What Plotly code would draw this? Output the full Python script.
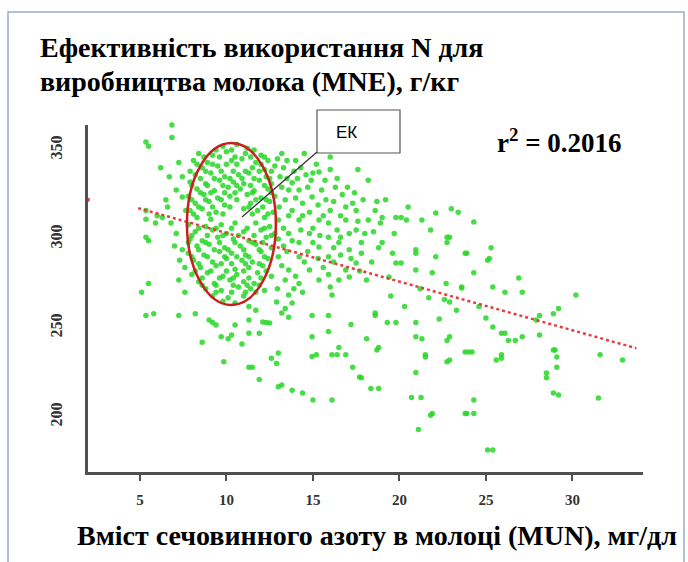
import plotly.graph_objects as go

# ---- data (MUN, mg/dl ; MNE, g/kg) ----
pts_left = [(5.35, 354.5), (5.5, 352), (6.85, 364), (6.85, 357), (7.25, 343), (6.7, 335), (7.45, 335),
            (7.1, 327.5), (6.5, 322), (5.35, 316), (6.3, 312), (5.35, 311), (5.9, 309), (6.8, 309),
            (5.35, 301), (7.1, 303), (7.45, 323.6), (7.65, 316), (5.5, 275), (7.45, 294), (7.6, 284),
            (7.25, 277), (5.1, 270), (7.6, 270), (5.35, 257), (7.25, 257), (5.5, 299), (6.0, 313),
            (6.6, 318), (7.0, 296), (7.3, 288), (6.2, 340), (5.8, 258)]

pts_ek = [(9.8, 352), (10.6, 353), (11.2, 351),
          (8.4, 348), (9.2, 347), (10.0, 349), (11.1, 348), (12.0, 347),
          (8.1, 344), (8.9, 343), (10.3, 344), (10.9, 345), (11.7, 343), (12.4, 344),
          (8.6, 340), (9.5, 341), (11.5, 340), (12.2, 339), (12.8, 341),
          (8.2, 336), (9.1, 337), (9.9, 335), (10.7, 336), (11.3, 337), (12.3, 335),
          (7.9, 332), (8.8, 331), (9.6, 333), (10.4, 332), (11.0, 331), (11.9, 333), (12.6, 331),
          (8.3, 328), (9.3, 327), (10.1, 329), (10.8, 328), (11.6, 327), (12.4, 328),
          (7.8, 324), (8.7, 325), (9.5, 323), (10.2, 324), (11.2, 325), (12.0, 323), (12.8, 324),
          (8.2, 320), (9.0, 321), (9.9, 319), (11.4, 320), (12.5, 321),
          (7.9, 316), (8.6, 317), (9.4, 315), (11.0, 317), (11.8, 316), (12.7, 315),
          (8.3, 312), (9.1, 311), (10.5, 309), (12.2, 312),
          (7.8, 308), (8.8, 307), (9.7, 308), (11.7, 309), (12.5, 307),
          (8.2, 304), (9.2, 305), (10.0, 303), (11.0, 304), (12.0, 305), (12.8, 303),
          (7.9, 300), (8.6, 299), (9.5, 301), (10.4, 300), (11.3, 299), (12.3, 301),
          (8.3, 296), (9.0, 297), (9.9, 295), (10.8, 296), (11.7, 297), (12.6, 295),
          (7.8, 292), (8.7, 291), (9.6, 293), (10.3, 292), (11.1, 291), (12.0, 293),
          (8.1, 288), (9.2, 287), (10.0, 289), (10.9, 288), (11.5, 287), (12.4, 289),
          (8.5, 284), (9.4, 285), (10.5, 283), (11.3, 284), (12.1, 285),
          (8.0, 280), (8.9, 281), (9.8, 279), (10.6, 280), (11.8, 281), (12.6, 279),
          (8.4, 276), (9.3, 275), (10.2, 277), (11.0, 276), (11.6, 275),
          (8.8, 272), (9.7, 271), (10.7, 273), (11.4, 272), (12.2, 271),
          (9.2, 268), (10.1, 267), (11.0, 268), (9.8, 265), (10.5, 264)]

pts_ek2 = [(9.4, 350), (10.3, 350), (11.6, 350),
           (8.7, 346), (9.6, 346), (10.5, 346), (11.4, 346), (12.2, 346),
           (8.3, 342), (9.2, 342), (10.0, 342), (10.6, 342), (12.0, 342),
           (7.9, 338), (8.8, 338), (9.7, 338), (10.4, 338), (11.1, 338), (11.9, 338), (12.6, 338),
           (8.5, 334), (9.3, 334), (10.2, 334), (10.9, 334), (11.6, 334), (12.5, 334),
           (8.0, 330), (8.9, 330), (9.8, 330), (10.6, 330), (11.4, 330), (12.2, 330),
           (8.5, 326), (9.1, 326), (9.9, 326), (10.5, 326), (11.5, 326), (12.6, 326),
           (8.0, 322), (8.8, 322), (9.7, 322), (10.6, 322), (11.7, 322), (12.3, 322),
           (8.4, 318), (9.2, 318), (10.2, 318), (11.3, 318), (12.1, 318),
           (8.1, 314), (9.0, 314), (9.8, 314), (11.5, 314), (12.4, 314),
           (8.4, 306), (9.4, 306), (10.3, 306), (11.2, 306), (12.2, 306),
           (8.0, 302), (8.9, 302), (9.8, 302), (10.7, 302), (11.6, 302), (12.6, 302),
           (7.8, 298), (8.8, 298), (9.6, 298), (10.5, 298), (11.5, 298), (12.1, 298),
           (8.4, 294), (9.3, 294), (10.1, 294), (11.0, 294), (11.9, 294),
           (8.0, 290), (8.9, 290), (9.9, 290), (10.6, 290), (11.3, 290), (12.2, 290),
           (8.4, 286), (9.7, 286), (10.3, 286), (11.1, 286), (11.9, 286),
           (8.2, 282), (9.1, 282), (10.0, 282), (11.0, 282), (12.3, 282),
           (8.6, 278), (9.6, 278), (10.4, 278), (11.3, 278), (12.0, 278),
           (8.6, 274), (9.4, 274), (10.4, 274), (11.2, 274), (11.9, 274),
           (9.4, 270), (10.3, 270), (11.1, 270), (11.7, 270)]

pts_below_ek = [(9.0, 254.5), (9.4, 251.7), (8.6, 242), (9.7, 245), (10.1, 244), (10.5, 251.7),
                (11.3, 262), (11.3, 254.5), (11.7, 260), (12.1, 253.4), (12.9, 264.6), (12.5, 252.8),
                (10.3, 246), (11.3, 247), (11.9, 247), (9.85, 231), (11.3, 228), (12.6, 233),
                (12.9, 230), (11.9, 221), (11.5, 228), (12.3, 253), (9.2, 253), (10.9, 241), (8.2, 258)]

pts_mid = [(13.4, 367), (13.2, 348), (15.35, 337.6), (16.0, 339), (16.4, 334), (18.2, 333), (17.0, 329),
           (13.8, 331.5), (13.6, 327.5), (14.2, 327.5), (15.5, 327.5), (13.4, 322), (14.4, 320),
           (14.95, 323.6), (15.75, 322), (17.5, 316), (13.8, 316), (16.0, 316), (18.6, 316), (19.0, 312),
           (13.0, 310.7), (14.2, 310.7), (15.35, 310.7), (15.9, 309), (16.9, 310.7), (18.2, 310.7),
           (13.6, 303), (14.8, 303), (15.9, 301), (17.1, 303), (17.8, 298), (14.2, 298), (15.35, 295.5),
           (16.5, 298), (18.8, 295), (13.0, 290), (14.2, 290), (15.9, 290), (17.5, 286.5), (13.6, 282.6),
           (14.8, 282.6), (16.9, 282.6), (15.35, 277), (18.1, 277), (13.4, 277), (14.2, 275),
           (17.1, 278.6), (17.1, 294), (17.8, 292), (14.4, 270), (13.6, 268.5), (16.1, 268.5),
           (13.4, 261), (13.2, 258.4), (13.6, 256), (13.8, 264), (14.95, 257), (15.9, 257), (18.6, 258.4),
           (13.3, 340), (14.0, 344), (14.6, 336), (13.9, 338), (14.9, 333), (15.2, 342), (13.5, 334),
           (14.4, 313), (15.0, 306), (16.4, 305), (13.3, 296), (14.7, 293), (16.2, 287), (15.6, 284),
           (17.3, 320), (16.7, 325), (17.9, 322), (18.5, 304), (16.0, 346), (14.5, 348), (17.6, 339),
           (12.95, 345), (13.1, 335), (13.05, 318), (13.0, 300), (13.2, 285), (12.95, 272)]

pts_mid2 = [(13.5, 344), (14.3, 340), (15.0, 337), (15.7, 333), (16.3, 329), (14.1, 334), (13.2, 329),
            (14.7, 329), (15.3, 319), (16.2, 321), (16.9, 318), (14.0, 323), (13.6, 313), (14.8, 315),
            (15.6, 313), (16.6, 313), (17.6, 310), (13.3, 306), (14.3, 305), (15.4, 302), (16.6, 301),
            (17.5, 305), (13.8, 299), (15.0, 298), (16.2, 295), (13.5, 293), (14.5, 287), (15.3, 289),
            (16.6, 291), (17.2, 289), (14.0, 279), (15.9, 280), (16.5, 277), (17.7, 282), (18.4, 287),
            (18.0, 303), (18.7, 321), (17.4, 326), (18.9, 309), (16.0, 273), (13.9, 272)]

pts_mid_low = [(14.95, 245), (15.9, 248), (14.95, 234), (16.1, 235), (16.9, 235), (16.5, 239),
               (17.3, 228), (17.8, 222), (18.35, 216), (18.8, 216), (17.2, 252), (18.1, 244),
               (18.7, 237.6), (18.6, 257), (13.0, 236), (13.0, 217), (13.8, 215), (15.0, 209.5),
               (16.1, 209.5), (14.4, 213.5), (13.2, 218), (15.2, 235), (16.4, 235), (17.7, 222.5),
               (18.8, 239)]

pts_right = [(19.3, 253), (19.8, 253), (20.95, 253), (21.3, 244), (22.75, 243), (21.5, 235),
             (22.75, 231), (20.95, 225), (20.7, 211), (21.25, 211), (21.8, 201), (21.1, 193),
             (21.7, 267), (22.9, 264.6), (23.8, 236.5), (24.2, 236.5), (25.6, 232), (25.9, 233),
             (27.1, 245), (26.3, 243), (28.1, 246), (25.9, 247), (28.9, 237.6), (29.1, 233.7),
             (29.1, 228), (28.5, 224.7), (28.5, 222), (28.9, 213.5), (29.2, 212.4), (31.6, 235),
             (32.9, 232), (31.5, 210.7), (24.3, 209.5), (23.9, 202), (24.3, 202), (25.1, 181.5),
             (25.4, 181.5), (24.3, 309.5), (25.3, 295), (23.9, 292), (25.1, 288), (24.3, 281),
             (23.6, 273), (26.9, 278), (27.1, 270), (25.4, 273), (26.1, 270), (30.2, 268.5),
             (28.9, 258), (29.2, 261), (25.0, 255.6), (25.4, 250.6), (27.9, 254.5), (28.1, 257),
             (26.1, 247), (26.7, 243), (24.0, 236.5), (25.9, 235), (29.0, 237.6), (23.4, 315),
             (23.0, 317), (22.75, 301), (22.75, 298), (23.8, 292), (25.2, 289), (22.6, 266),
             (20.1, 312), (20.4, 310.7), (21.3, 310.7), (22.1, 314.6), (19.7, 303), (20.95, 294),
             (19.6, 292), (20.1, 286.5), (20.95, 282.6), (21.9, 281), (19.4, 278.6), (22.7, 275),
             (22.9, 245), (22.9, 232), (23.8, 202), (23.6, 272.5), (19.0, 298), (19.8, 286.5),
             (20.95, 292), (22.1, 290), (22.9, 301), (20.95, 245), (21.5, 233.7), (21.9, 202),
             (19.8, 312), (19.2, 322), (20.5, 318), (21.8, 305), (19.5, 268), (20.3, 262),
             (21.2, 272), (22.3, 255), (23.3, 260), (24.6, 262)]

trend_mun = [4.9, 33.7]
trend_mne = [317.3, 238.6]
trend_axis_mun = [2.0]
trend_axis_mne = [322.0]

x_ticks = [5, 10, 15, 20, 25, 30]
y_ticks = [200, 250, 300, 350]

title_line1 = "Ефективність використання N для"
title_line2 = "виробництва молока (MNE), г/кг"
x_title = "Вміст сечовинного азоту в молоці (MUN), мг/дл"
r2_text = "r<sup>2</sup> = 0.2016"
ek_label = "ЕК"
ellipse_mun = [7.72, 12.86]
ellipse_mne = [262.9, 353.9]

# ---- build ----
all_pts = pts_left + pts_ek + pts_ek2 + pts_below_ek + pts_mid + pts_mid2 + pts_mid_low + pts_right
mun = [p[0] for p in all_pts]
mne = [p[1] for p in all_pts]

W, H = 688, 562
L, R, T, B = 88, 45, 125, 90
pw, ph = W - L - R, H - T - B


def px(x):
    return (x - L) / pw


def py(y):
    return (H - B - y) / ph


serif = "Liberation Serif"
sans = "Liberation Sans"

fig = go.Figure()
fig.add_trace(go.Scatter(
    x=mun, y=mne, mode="markers",
    marker=dict(size=5.5, color="rgb(40,215,40)", opacity=0.85, line=dict(width=0)),
    cliponaxis=False, hoverinfo="skip", showlegend=False))
fig.add_trace(go.Scatter(
    x=trend_mun, y=trend_mne, mode="lines",
    line=dict(color="rgb(230,60,60)", width=2.5, dash="dot"),
    hoverinfo="skip", showlegend=False))
fig.add_trace(go.Scatter(
    x=trend_axis_mun, y=trend_axis_mne, mode="markers",
    marker=dict(size=4, color="rgb(230,60,60)"), cliponaxis=False,
    hoverinfo="skip", showlegend=False))

fig.update_layout(
    width=W, height=H,
    margin=dict(l=L, r=R, t=T, b=B, pad=0),
    paper_bgcolor="white", plot_bgcolor="white",
    showlegend=False,
    xaxis=dict(range=[2.0, 34.08], tickvals=x_ticks, ticktext=[str(v) for v in x_ticks],
               showgrid=False, zeroline=False, showline=True, linecolor="#505050", linewidth=3,
               ticks="outside", ticklen=6, tickwidth=2, tickcolor="#505050",
               ticklabelstandoff=6,
               tickfont=dict(family=serif, size=15, color="#333", weight="bold")),
    yaxis=dict(range=[169.1, 364.0], tickvals=y_ticks, ticktext=[str(v) for v in y_ticks],
               showgrid=False, zeroline=False, showline=True, linecolor="#505050", linewidth=3,
               ticks="", tickangle=-90, ticklabelstandoff=17,
               tickfont=dict(family=serif, size=16, color="#333", weight="bold")),
    shapes=[
        dict(type="rect", xref="paper", yref="paper", x0=px(8), x1=px(684), y0=py(600), y1=py(12),
             line=dict(color="#9aaccc", width=1.5), layer="below"),
        dict(type="circle", xref="x", yref="y", x0=ellipse_mun[0], x1=ellipse_mun[1],
             y0=ellipse_mne[0], y1=ellipse_mne[1], line=dict(color="rgb(200,30,30)", width=2.5)),
        dict(type="rect", xref="paper", yref="paper", x0=px(317), x1=px(400), y0=py(153), y1=py(110),
             line=dict(color="#555", width=1.2), fillcolor="white"),
        dict(type="line", xref="paper", yref="paper", x0=px(317), y0=py(152), x1=px(242), y1=py(217),
             line=dict(color="#333", width=1.2)),
    ],
    annotations=[
        dict(text=title_line1, xref="paper", yref="paper", x=px(38), y=py(47), xanchor="left",
             yanchor="middle", showarrow=False,
             font=dict(family=serif, size=28, color="black", weight="bold")),
        dict(text=title_line2, xref="paper", yref="paper", x=px(38), y=py(81), xanchor="left",
             yanchor="middle", showarrow=False,
             font=dict(family=serif, size=28, color="black", weight="bold")),
        dict(text=x_title, xref="paper", yref="paper", x=px(377), y=py(535), xanchor="center",
             yanchor="middle", showarrow=False,
             font=dict(family=serif, size=28, color="black", weight="bold")),
        dict(text=r2_text, xref="paper", yref="paper", x=px(559), y=py(141), xanchor="center",
             yanchor="middle", showarrow=False,
             font=dict(family=serif, size=27, color="black", weight="bold")),
        dict(text=ek_label, xref="paper", yref="paper", x=px(346), y=py(132), xanchor="center",
             yanchor="middle", showarrow=False,
             font=dict(family=sans, size=17, color="black")),
    ],
)

fig.write_html("out.html")
